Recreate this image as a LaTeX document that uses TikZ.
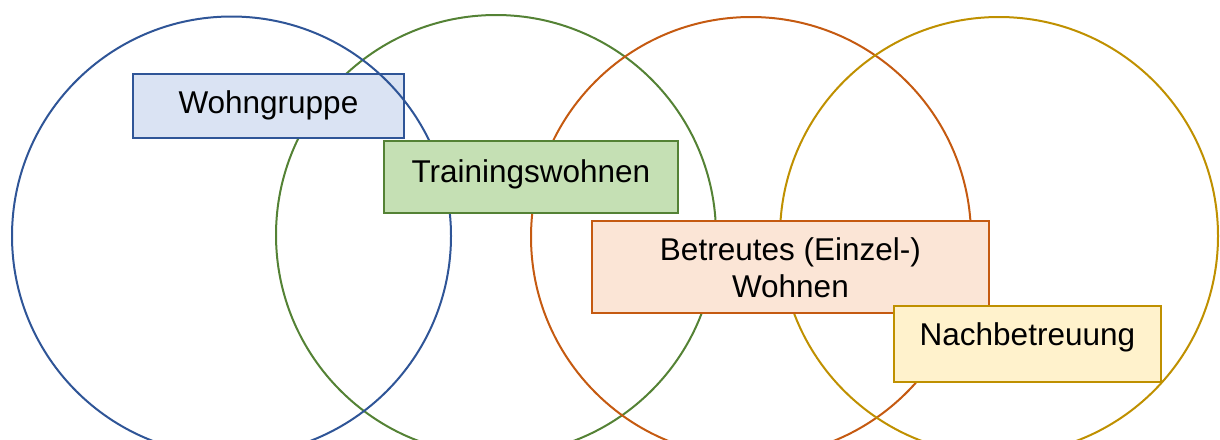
\documentclass[tikz,border=0pt]{standalone}
\usepackage{fontspec}
\setmainfont{Liberation Sans}
\usetikzlibrary{calc}
\definecolor{cblue}{HTML}{2F5597}
\definecolor{cgreen}{HTML}{548235}
\definecolor{corange}{HTML}{C55A11}
\definecolor{cgold}{HTML}{BF9000}
\definecolor{fblue}{HTML}{DAE3F3}
\definecolor{fgreen}{HTML}{C5E0B4}
\definecolor{forange}{HTML}{FBE5D6}
\definecolor{fgold}{HTML}{FFF2CC}
\begin{document}
\begin{tikzpicture}[x=1pt,y=-1pt,
  ring/.style={line width=2pt},
  box/.style={draw, line width=1.8pt, rectangle, inner sep=0pt, anchor=north west},
  lbl/.style={anchor=base, inner sep=0pt, align=center, font=\fontsize{31.5}{37}\selectfont}]
\useasboundingbox (0,0) rectangle (1220,439);
\begin{scope}
\clip (0,0) rectangle (1220,439);
% circles below boxes
\draw[ring, cgreen]  (496,235) circle[radius=220];
\draw[ring, corange] (751,237) circle[radius=220];
\draw[ring, cgold]   (999,236) circle[radius=219];
% Wohngruppe box
\node[box, draw=cblue, fill=fblue, minimum width=271pt, minimum height=64pt] (wg) at (132,73) {};
\node[lbl] (wgt) at ($(wg.north)+(0,40)$) {Wohngruppe};
% blue circle above Wohngruppe box
\draw[ring, cblue] (231.5,236) circle[radius=219.5];
% Trainingswohnen
\node[box, draw=cgreen, fill=fgreen, minimum width=294pt, minimum height=72pt] (tw) at (383,140) {};
\node[lbl] (twt) at ($(tw.north)+(0,42)$) {Trainingswohnen};
% Betreutes Wohnen
\node[box, draw=corange, fill=forange, minimum width=397pt, minimum height=92pt] (bw) at (591,220) {};
\node[lbl, anchor=north] (bwt) at ($(bw.north)+(0,17.5)$) {Betreutes (Einzel-)\\Wohnen};
% Nachbetreuung
\node[box, draw=cgold, fill=fgold, minimum width=267pt, minimum height=76pt] (nb) at (893,305) {};
\node[lbl] (nbt) at ($(nb.north)+(0,40)$) {Nachbetreuung};
\end{scope}
\end{tikzpicture}
\end{document}
